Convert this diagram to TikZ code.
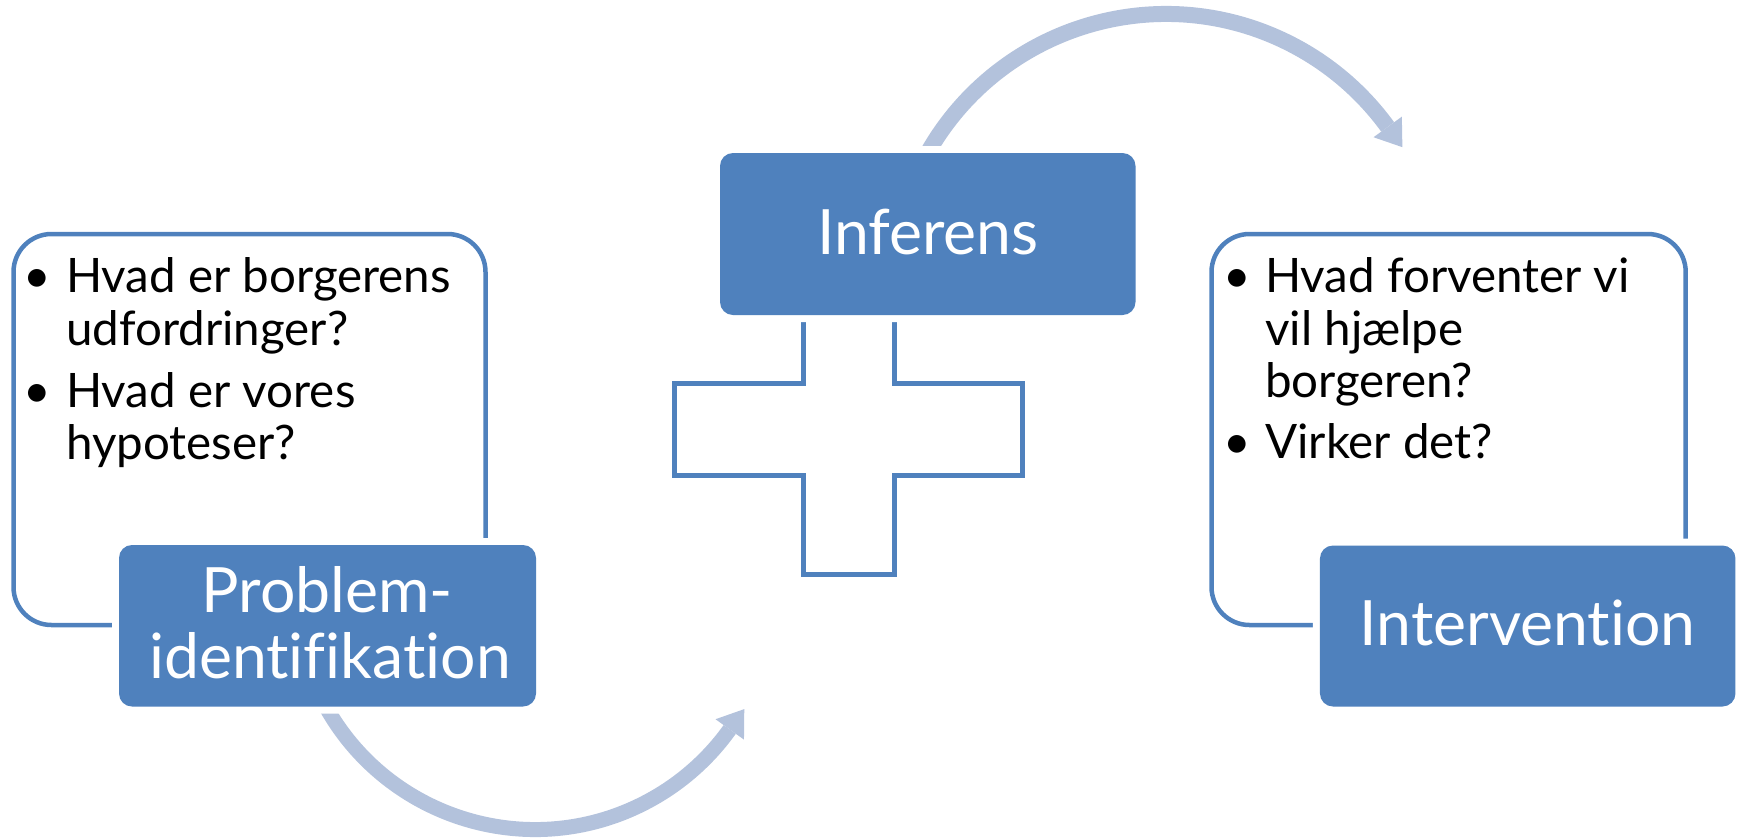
\documentclass[tikz,border=0pt]{standalone}
\usepackage{fontspec}
\setmainfont{Lato}[Ligatures={NoCommon}]
\usetikzlibrary{calc}
\definecolor{accent}{HTML}{4F81BD}
\definecolor{arrowtint}{HTML}{B3C2DC}
\tikzset{
  outlinebox/.style={draw=accent, line width=4.5pt, rounded corners=38pt},
  headbox/.style={fill=accent, rounded corners=13pt, inner sep=0pt,
    preaction={draw=white, line width=14pt}},
  crossline/.style={draw=accent, line width=5pt},
  cyclearrow/.style={draw=arrowtint, line width=16pt},
  arrowhead/.style={fill=arrowtint},
  bodytext/.style={font=\fontsize{47.5}{53}\selectfont, anchor=base west, inner sep=0pt},
  bulletmark/.style={font=\fontsize{47.5}{53}\selectfont, anchor=base, inner sep=0pt},
  headtext/.style={font=\fontsize{62.5}{66}\selectfont, text=white, anchor=base, inner sep=0pt}
}
\begin{document}
\begin{tikzpicture}[x=1pt, y=-1pt]
\useasboundingbox (0,0) rectangle (1739,839);

% cycle arrows (their tails tuck under the white halo of the boxes)
\coordinate (topc) at (1166,288);
\coordinate (botc) at (535,590);
\draw[cyclearrow] ($(topc)+(-153:274)$) arc[start angle=-153, end angle=-36, radius=274];
\fill[arrowhead] ($(topc)+(-36:256.5)$) -- ($(topc)+(-36:291.5)$) -- ($(topc)+(-36:274)+(54:25)$) -- cycle;
\draw[cyclearrow, line width=15pt] ($(botc)+(153:239.5)$) arc[start angle=153, end angle=35.6, radius=239.5];
\fill[arrowhead] ($(botc)+(35.6:222)$) -- ($(botc)+(35.6:257)$) -- ($(botc)+(35.6:239.5)+(-54.4:25)$) -- cycle;

% outlined text panels
\draw[outlinebox] (13.5,234) rectangle (485.5,625);
\draw[outlinebox] (1211.5,234) rectangle (1685.7,625);

% plus sign
\draw[crossline] (803,280) -- (803,383.5) -- (674.5,383.5) -- (674.5,475.5)
  -- (803,475.5) -- (803,574.5) -- (894.5,574.5) -- (894.5,475.5)
  -- (1022.5,475.5) -- (1022.5,383.5) -- (894.5,383.5) -- (894.5,280) -- cycle;

% heading boxes
\node[headbox, minimum width=417pt, minimum height=161.5pt] (prob) at (327.5,625.75) {};
\node[headbox, minimum width=415.5pt, minimum height=162pt] (inf) at (927.75,234) {};
\node[headbox, minimum width=415.5pt, minimum height=161pt] (int) at (1527.7,626) {};

\node[headtext] (probA) at (327.5,612) {Problem-};
\node[headtext] (probB) at (330,678) {identifikation};
\node[headtext] (infT) at (928,254) {Inferens};
\node[headtext] (intT) at (1527.5,645) {Intervention};

% left panel bullets
\node[bulletmark] (lb1) at (37,292) {•};
\node[bodytext] (l1) at (66,292) {Hvad er borgerens};
\node[bodytext] (l2) at (66,345) {udfordringer?};
\node[bulletmark] (lb2) at (37,407) {•};
\node[bodytext] (l3) at (66,407) {Hvad er vores};
\node[bodytext] (l4) at (66,459) {hypoteser?};

% right panel bullets
\node[bulletmark] (rb1) at (1237,292) {•};
\node[bodytext] (r1) at (1265,292) {Hvad forventer vi};
\node[bodytext] (r2) at (1265,345) {vil hjælpe};
\node[bodytext] (r3) at (1265,397) {borgeren?};
\node[bulletmark] (rb2) at (1237,458) {•};
\node[bodytext] (r4) at (1265,458) {Virker det?};
\end{tikzpicture}
\end{document}
